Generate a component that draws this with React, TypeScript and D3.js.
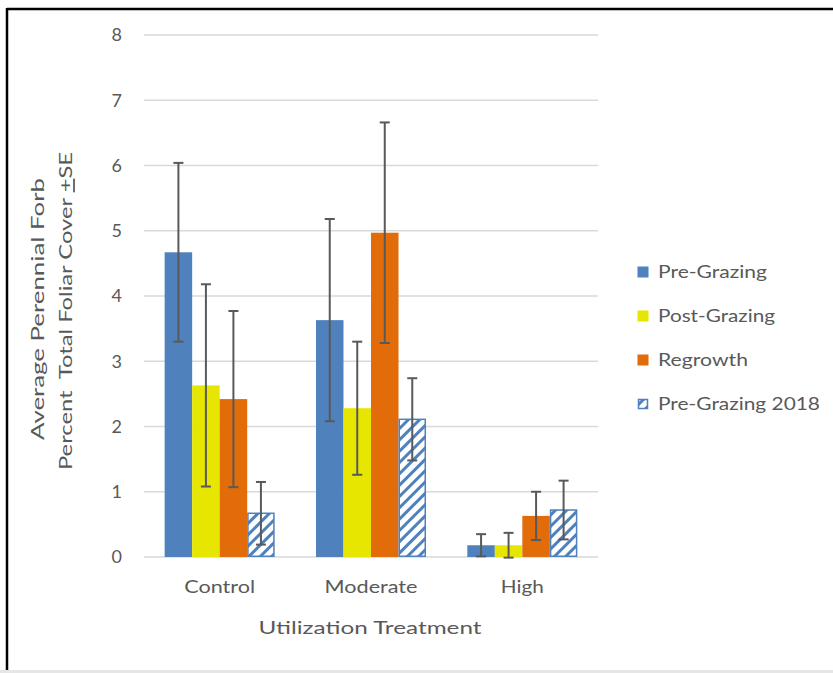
import React from "react";
import * as d3 from "d3";

const categories = ["Control", "Moderate", "High"];
const seriesNames = ["Pre-Grazing", "Post-Grazing", "Regrowth", "Pre-Grazing 2018"];
const preGrazing = [4.67, 3.63, 0.18];
const preGrazingSE = [1.37, 1.55, 0.17];
const postGrazing = [2.63, 2.28, 0.18];
const postGrazingSE = [1.55, 1.02, 0.19];
const regrowth = [2.42, 4.97, 0.63];
const regrowthSE = [1.35, 1.69, 0.37];
const preGrazing2018 = [0.67, 2.11, 0.72];
const preGrazing2018SE = [0.48, 0.63, 0.45];
const yTicks = [0, 1, 2, 3, 4, 5, 6, 7, 8];

const values = [preGrazing, postGrazing, regrowth, preGrazing2018];
const errors = [preGrazingSE, postGrazingSE, regrowthSE, preGrazing2018SE];
const colors = ["#4F81BD", "#E6E600", "#E36C0A", "url(#hatch)"];

const FONT = "Lato, 'Open Sans', sans-serif";
const TXT = "#595959";
const legendLen = [109, 117, 90, 162];
const catLen = [71, 93, 43];

export default function App() {
  const W = 833, H = 673;
  const x = d3.scaleBand<string>().domain(categories).range([144, 598]).paddingInner(0.273).paddingOuter(0.1365);
  const xs = d3.scaleBand<string>().domain(seriesNames).range([0, x.bandwidth()]).padding(0);
  const y = d3.scaleLinear().domain([0, 8]).range([557, 35]);
  const legendY = [272, 316, 360, 404];

  return (
    <div style={{ position: "fixed", left: 0, top: 0 }}>
      <svg width={W} height={H} style={{ display: "block", fontFamily: FONT }}>
        <defs>
          <pattern id="hatch" patternUnits="userSpaceOnUse" width={8} height={8} patternTransform="rotate(45)">
            <rect width={8} height={8} fill="#fff" />
            <rect x={0} y={0} width={3} height={8} fill="#4F81BD" />
          </pattern>
        </defs>
        <rect x={0} y={0} width={W} height={H} fill="#fff" />
        <rect x={0} y={670} width={W} height={3} fill="#E6E6E6" />
        <line x1={7} x2={W} y1={9} y2={9} stroke="#000" strokeWidth={2.5} />
        <line x1={7} x2={7} y1={8} y2={670} stroke="#000" strokeWidth={2.5} />

        {yTicks.map((t) => (
          <g key={t}>
            <line x1={144} x2={598} y1={y(t)} y2={y(t)} stroke="#D9D9D9" strokeWidth={1.5} />
            <text x={122} y={y(t)} dy="0.35em" textAnchor="end" fontSize={18} fill={TXT}>{t}</text>
          </g>
        ))}

        {categories.map((c, ci) => (
          <g key={c}>
            {seriesNames.map((s, si) => {
              const v = values[si][ci];
              const bx = (x(c) as number) + (xs(s) as number);
              const bw = xs.bandwidth();
              const hatched = si === 3;
              return (
                <rect key={s}
                  x={hatched ? bx + 0.75 : bx} y={y(v)}
                  width={hatched ? bw - 1.5 : bw} height={y(0) - y(v) - (hatched ? 0.75 : 0)}
                  fill={colors[si]}
                  stroke={hatched ? "#4F81BD" : "none"} strokeWidth={1.5} />
              );
            })}
            {seriesNames.map((s, si) => {
              const v = values[si][ci];
              const e = errors[si][ci];
              const cx = (x(c) as number) + (xs(s) as number) + xs.bandwidth() / 2;
              return (
                <g key={s} stroke="#595959" strokeWidth={2}>
                  <line x1={cx} x2={cx} y1={y(v + e)} y2={y(v - e)} />
                  <line x1={cx - 5} x2={cx + 5} y1={y(v + e)} y2={y(v + e)} />
                  <line x1={cx - 5} x2={cx + 5} y1={y(v - e)} y2={y(v - e)} />
                </g>
              );
            })}
            <text x={(x(c) as number) + x.bandwidth() / 2} y={587} dy="0.35em" textAnchor="middle" fontSize={18} fill={TXT}
              textLength={catLen[ci]} lengthAdjust="spacingAndGlyphs">{c}</text>
          </g>
        ))}

        <text x={370} y={628} dy="0.35em" textAnchor="middle" fontSize={18} fill={TXT}
          textLength={223} lengthAdjust="spacingAndGlyphs">Utilization Treatment</text>

        <g transform="translate(38,309) rotate(-90)">
          <text x={0} y={0} dy="0.35em" textAnchor="middle" fontSize={17.5} fill={TXT}
            textLength={262} lengthAdjust="spacingAndGlyphs">Average Perennial Forb</text>
        </g>
        <g transform="translate(66,311) rotate(-90)">
          <text x={0} y={0} dy="0.35em" textAnchor="middle" fontSize={17.5} fill={TXT}
            textLength={318} lengthAdjust="spacingAndGlyphs">
            Percent{"\u00A0\u00A0"}Total Foliar Cover <tspan textDecoration="underline">+</tspan>SE
          </text>
        </g>

        {seriesNames.map((s, si) => (
          <g key={s}>
            {si === 3 ? (
              <rect x={638.5} y={legendY[si] - 4.5} width={9} height={9} fill="url(#hatch)" stroke="#4F81BD" strokeWidth={1.5} />
            ) : (
              <rect x={637.5} y={legendY[si] - 5.5} width={11} height={11} fill={colors[si]} />
            )}
            <text x={658} y={legendY[si]} dy="0.35em" fontSize={18} fill={TXT}
              textLength={legendLen[si]} lengthAdjust="spacingAndGlyphs">{s}</text>
          </g>
        ))}
      </svg>
    </div>
  );
}
